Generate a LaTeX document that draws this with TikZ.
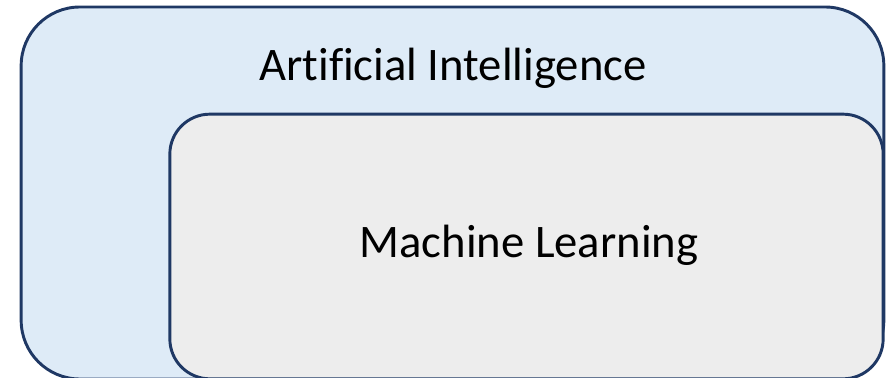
\documentclass[tikz,border=0pt]{standalone}
\usepackage{fontspec}
\setmainfont[Ligatures=NoCommon]{Carlito}
\usepackage{xcolor}
\usepackage{tikz}
\usetikzlibrary{positioning}
\definecolor{navy}{HTML}{1F3864}
\definecolor{lightblue}{HTML}{DEEBF7}
\definecolor{lightgray}{HTML}{EDEDED}

\begin{document}
\begin{tikzpicture}[
  x=0.75pt,y=-0.75pt,
  font=\fontsize{35}{40}\selectfont,
  outer/.style={draw=navy,fill=lightblue,line width=2.2pt,rounded corners=44pt,minimum width=647pt,minimum height=279pt,inner sep=0pt},
  inner/.style={draw=navy,fill=lightgray,line width=2.2pt,rounded corners=30pt,minimum width=535pt,minimum height=198.5pt,inner sep=0pt},
  lbl/.style={inner sep=0pt,text=black}
]
\useasboundingbox (0,0) rectangle (890,378);
\node[outer] (ai) at (452.5,193) {};
\node[inner] (ml) at (526.5,246.5) {};
\node[lbl] (aitext) at (453,68) {Artificial Intelligence};
\node[lbl] (mltext) at (529,245) {Machine Learning};
\end{tikzpicture}
\end{document}
